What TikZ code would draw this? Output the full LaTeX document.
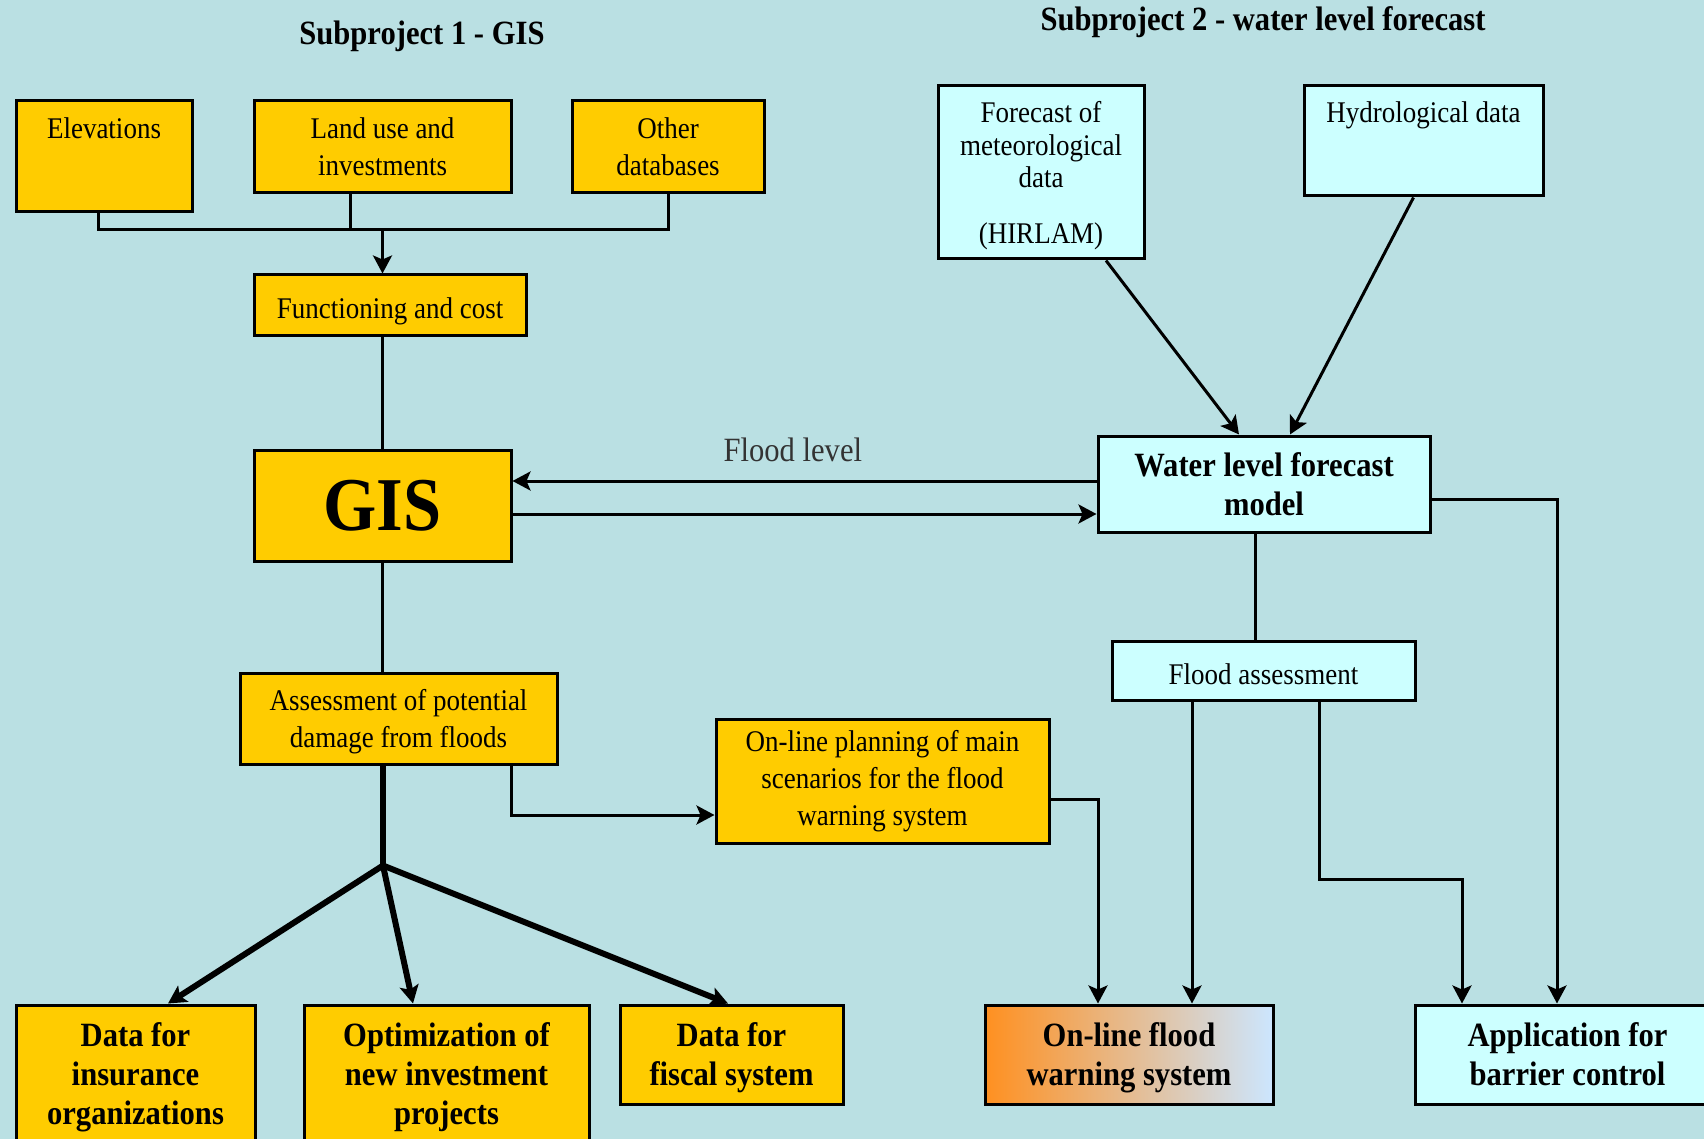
\documentclass[tikz,border=0pt]{standalone}
\usepackage{fontspec}
\setmainfont{Liberation Serif}[FakeStretch=0.9]
\usepackage{tikz}
\usetikzlibrary{
        arrows.meta,
        calc,
        positioning
    }
\definecolor{bgblue}{HTML}{BAE0E3}
\definecolor{boxyellow}{HTML}{FFCC00}
\definecolor{boxcyan}{HTML}{CCFFFF}
\definecolor{warnorange}{HTML}{FF9020}
\definecolor{warnblue}{HTML}{CCE6FF}
\tikzset{>={Stealth[length=9pt,width=9.5pt,inset=2pt]},auto}
\tikzset{
    box/.style={draw,line width=1.5pt,align=center,inner sep=2pt},
    ybox/.style={box,fill=boxyellow},
    cbox/.style={box,fill=boxcyan},
    low/.style={text depth=0pt},
    oneline/.style={text height=13.5pt,text depth=0pt},
    small/.style={font=\fontsize{15}{18.5}\selectfont},
    big/.style={font=\fontsize{17}{19.5}\selectfont\bfseries},
    link/.style={line width=1.5pt},
    fork/.style={line width=3pt}
}

\begin{document}
\begin{tikzpicture}
        \fill[bgblue] (0,0) rectangle (852pt,-569.5pt);
        \useasboundingbox (0,0) rectangle (852pt,-569.5pt);

        % titles
        \node[font=\fontsize{17}{20}\selectfont\bfseries] (title1) at (211pt,-18pt) {Subproject 1 - GIS};
        \node[font=\fontsize{17}{20}\selectfont\bfseries] (title2) at (631.5pt,-11pt) {Subproject 2 - water level forecast};

        % subproject 1
        \node[ybox,small,minimum width=88pt,minimum height=55.5pt,text height=14.5pt,text depth=32.5pt] (elev) at (52pt,-78.25pt) {Elevations};
        \node[ybox,small,minimum width=128.5pt,minimum height=46pt] (landuse) at (191.25pt,-73.5pt) {Land use and\\investments};
        \node[ybox,small,minimum width=96pt,minimum height=46pt] (otherdb) at (334pt,-73.5pt) {Other\\databases};
        \node[ybox,small,oneline,minimum width=136pt,minimum height=30.5pt] (func) at (195pt,-152.75pt) {Functioning and cost};
        \node[ybox,font=\fontsize{38}{40}\selectfont\bfseries,minimum width=128.5pt,minimum height=55.5pt] (gis) at (191.25pt,-252.75pt) {GIS};
        \node[ybox,small,low,minimum width=158.5pt,minimum height=45.5pt] (damage) at (199.25pt,-359.25pt) {Assessment of potential\\damage from floods};
        \node[ybox,small,minimum width=166.5pt,minimum height=62pt] (planning) at (441.25pt,-390.5pt) {On-line planning of main\\scenarios for the flood\\warning system};
        \node[ybox,big,minimum width=119.5pt,minimum height=72.5pt] (insurance) at (67.75pt,-538.75pt) {Data for\\insurance\\organizations};
        \node[ybox,big,minimum width=142.5pt,minimum height=72.5pt] (optim) at (223.25pt,-538.75pt) {Optimization of\\new investment\\projects};
        \node[ybox,big,low,minimum width=111.5pt,minimum height=49.5pt] (fiscal) at (365.75pt,-527.25pt) {Data for\\fiscal system};

        % subproject 2
        \node[cbox,low,font=\fontsize{15}{16.3}\selectfont,minimum width=103pt,minimum height=86.5pt] (meteo) at (520.5pt,-86.25pt) {Forecast of\\meteorological\\data\\[11.7pt](HIRLAM)};
        \node[cbox,small,minimum width=119.5pt,minimum height=55pt,text height=14.5pt,text depth=32.5pt] (hydro) at (711.75pt,-70.5pt) {Hydrological data};
        \node[cbox,big,minimum width=166pt,minimum height=48pt] (wlf) at (632pt,-242pt) {Water level forecast\\model};
        \node[cbox,small,oneline,minimum width=151.5pt,minimum height=29.5pt] (floodass) at (631.75pt,-335.25pt) {Flood assessment};
        \node[box,big,low,left color=warnorange,right color=warnblue,minimum width=144pt,minimum height=49.5pt] (warning) at (564.5pt,-527.25pt) {On-line flood\\warning system};
        \node[cbox,big,low,minimum width=152.5pt,minimum height=49.5pt] (barrier) at (783.75pt,-527.25pt) {Application for\\barrier control};

        % inputs of the GIS
        \coordinate (bus) at ($(landuse.south)+(0,-17.5pt)$);
        \draw[link] ($(elev.south)+(-3pt,0)$) |- (otherdb.south |- bus) -- (otherdb.south);
        \draw[link] ($(landuse.south)+(-16pt,0)$) -- ++(0,-17.5pt);
        \draw[link,->] (bus) -- (bus |- func.north);
        \draw[link] (gis.north |- func.south) -- (gis.north);
        \draw[link] (gis.south) -- (gis.south |- damage.north);

        % exchange with the forecast model
        \coordinate (fl1) at ($(wlf.west)+(0,1.5pt)$);
        \coordinate (fl2) at ($(gis.east)+(0,-4.25pt)$);
        \draw[link,->] (fl1) -- (fl1 -| gis.east) node[pos=0.52,above=5.5pt,font=\fontsize{17}{20}\selectfont,text=black!80] (floodlbl) {Flood level};
        \draw[link,->] (fl2) -- (fl2 -| wlf.west);
        \draw[link,->] ($(meteo.south)+(32.5pt,0)$) -- ($(wlf.north)+(-12.5pt,0)$);
        \draw[link,->] ($(hydro.south)+(-5pt,0)$) -- ($(wlf.north)+(13pt,0)$);

        % outputs of the forecast model
        \coordinate (fa0) at ($(floodass.north)+(-4pt,0)$);
        \draw[link] (fa0) -- (fa0 |- wlf.south);
        \coordinate (fa1) at ($(floodass.south)+(-35.75pt,0)$);
        \draw[link,->] (fa1) -- (fa1 |- warning.north);
        \coordinate (fa2) at ($(floodass.south)+(27.75pt,0)$);
        \coordinate (bar1) at ($(barrier.north)+(-52.75pt,0)$);
        \draw[link,->] (fa2) -- ++(0,-89pt) -| (bar1);
        \coordinate (w1) at ($(wlf.east)+(0,-7.5pt)$);
        \coordinate (bar2) at ($(barrier.north)+(-5.25pt,0)$);
        \draw[link,->] (w1) -| (bar2);

        % damage assessment and planning
        \coordinate (p1) at ($(planning.east)+(0,-9pt)$);
        \coordinate (wn1) at ($(warning.north)+(-15.5pt,0)$);
        \draw[link,->] (p1) -| (wn1);
        \coordinate (d1) at ($(damage.south)+(56.25pt,0)$);
        \coordinate (p2) at ($(planning.west)+(0,-17pt)$);
        \draw[link,->] (d1) |- (p2);

        \coordinate (split) at ($(damage.south)+(-7.75pt,-50pt)$);
        \draw[fork] (split |- damage.south) -- (split);
        \draw[fork,->] (split) -- ($(insurance.north)+(16.25pt,0)$);
        \draw[fork,->] (split) -- ($(optim.north)+(-16.75pt,0)$);
        \draw[fork,->] (split) -- ($(fiscal.north)+(-1.75pt,0)$);
    \end{tikzpicture}
\end{document}
